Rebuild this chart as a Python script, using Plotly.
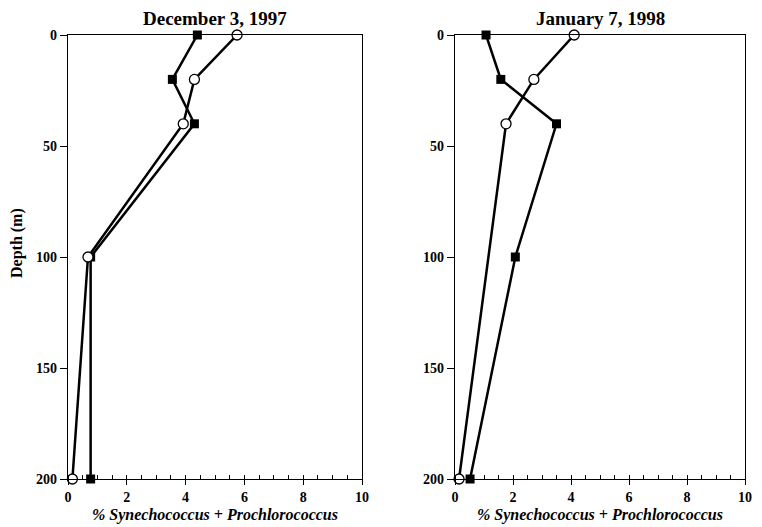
import plotly.graph_objects as go

depths = [0, 20, 40, 100, 200]
dec_square = [4.4, 3.55, 4.3, 0.77, 0.77]
dec_circle = [5.75, 4.3, 3.92, 0.68, 0.15]
jan_square = [1.07, 1.58, 3.5, 2.08, 0.52]
jan_circle = [4.11, 2.72, 1.76, None, 0.14]

titles = ["December 3, 1997", "January 7, 1998"]
x_title = "<i>% Synechococcus + Prochlorococcus</i>"
y_title = "Depth (m)"
x_ticks = [0, 2, 4, 6, 8, 10]
y_ticks = [0, 50, 100, 150, 200]

OFF = 8  # page body margin
W, H = 762 - OFF, 527 - OFF
FONT = "Liberation Serif"

def px(x):
    return (x - OFF) / W

def py(y):
    return 1 - (y - OFF) / H

fig = go.Figure()

def add_pair(sq, ci, xa, ya):
    fig.add_trace(go.Scatter(
        x=sq, y=depths, xaxis=xa, yaxis=ya, mode="lines+markers",
        line=dict(color="black", width=2.5),
        marker=dict(symbol="square", size=9, color="black"),
        cliponaxis=False, showlegend=False, connectgaps=True))
    fig.add_trace(go.Scatter(
        x=ci, y=depths, xaxis=xa, yaxis=ya, mode="lines+markers",
        line=dict(color="black", width=2.5),
        marker=dict(symbol="circle", size=10, color="white",
                    line=dict(color="black", width=1.3)),
        cliponaxis=False, showlegend=False, connectgaps=True))

add_pair(dec_square, dec_circle, "x", "y")
add_pair(jan_square, jan_circle, "x2", "y2")

x_dom = [[px(68), px(362)], [px(455), px(745)]]
y_dom = [py(479), py(35)]

def xaxis(dom, anchor):
    return dict(domain=dom, anchor=anchor, range=[0, 10], tickvals=x_ticks,
                automargin=False,
                ticks="outside", ticklen=5, tickwidth=1.2, tickcolor="black",
                minor=dict(dtick=0.5, ticks="inside", ticklen=4, tickwidth=1.2,
                           tickcolor="black", showgrid=False),
                showline=True, linecolor="black", linewidth=1.2, mirror=True,
                showgrid=False, zeroline=False,
                tickfont=dict(family=FONT, size=14, color="black", weight="bold"))

def yaxis(anchor):
    return dict(domain=y_dom, anchor=anchor, range=[200, 0], tickvals=y_ticks,
                automargin=False,
                ticks="outside", ticklen=7, tickwidth=1.2, tickcolor="black",
                showline=True, linecolor="black", linewidth=1.2, mirror=True,
                showgrid=False, zeroline=False,
                tickfont=dict(family=FONT, size=14, color="black", weight="bold"))

fig.update_layout(
    width=W, height=H, margin=dict(l=0, r=0, t=0, b=0, pad=0, autoexpand=False),
    paper_bgcolor="white", plot_bgcolor="white",
    xaxis=xaxis(x_dom[0], "y"), yaxis=yaxis("x"),
    xaxis2=xaxis(x_dom[1], "y2"), yaxis2=yaxis("x2"),
)

anns = []
for i, t in enumerate(titles):
    cx = (x_dom[i][0] + x_dom[i][1]) / 2
    anns.append(dict(text=t, x=cx, y=py(19), xref="paper", yref="paper",
                     xanchor="center", yanchor="middle", showarrow=False,
                     font=dict(family=FONT, size=19, color="black", weight="bold")))
    anns.append(dict(text=x_title, x=cx, y=py(515), xref="paper", yref="paper",
                     xanchor="center", yanchor="middle", showarrow=False,
                     font=dict(family=FONT, size=16, color="black", weight="bold")))
anns.append(dict(text=y_title, x=px(17), y=py(243), xref="paper", yref="paper",
                 xanchor="center", yanchor="middle", showarrow=False, textangle=-90,
                 font=dict(family=FONT, size=16, color="black", weight="bold")))
fig.update_layout(annotations=anns)

fig.write_html("out.html")
